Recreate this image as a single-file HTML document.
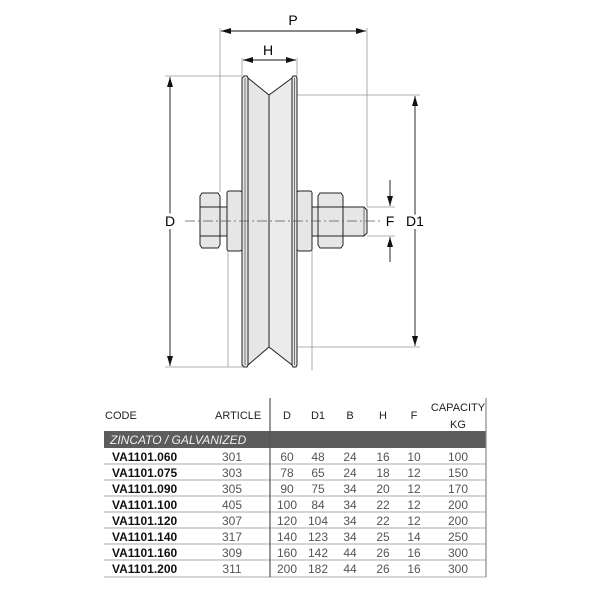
<!DOCTYPE html>
<html><head><meta charset="utf-8"><style>
html,body{margin:0;padding:0;background:#fff;width:600px;height:600px;overflow:hidden}
svg{position:absolute;left:0;top:0}
text{font-family:"Liberation Sans",sans-serif}
</style></head><body>
<svg width="600" height="600" viewBox="0 0 600 600" xmlns="http://www.w3.org/2000/svg">
<defs>
<marker id="a" viewBox="0 0 10 6" refX="10" refY="3" markerWidth="10" markerHeight="6" orient="auto-start-reverse" markerUnits="userSpaceOnUse"><path d="M0,0 L10,3 L0,6 z" fill="#111"/></marker>
</defs>
<g stroke="#999" stroke-width="0.8" fill="none">
<line x1="220" y1="28" x2="220" y2="192"/>
<line x1="228" y1="250" x2="228" y2="367"/>
<line x1="367" y1="28" x2="367" y2="207"/>
<line x1="242" y1="58" x2="242" y2="76"/>
<line x1="297" y1="58" x2="297" y2="76"/>
<line x1="165" y1="76" x2="242" y2="76"/>
<line x1="165" y1="367" x2="245" y2="367"/>
<line x1="270" y1="95" x2="420" y2="95"/>
<line x1="270" y1="347" x2="420" y2="347"/>
<line x1="312" y1="250" x2="312" y2="370"/>
<line x1="367" y1="207" x2="395" y2="207"/>
<line x1="367" y1="236" x2="395" y2="236"/>
</g>
<g stroke="#111" stroke-width="0.9">
<line x1="221" y1="31" x2="366" y2="31" marker-start="url(#a)" marker-end="url(#a)"/>
<line x1="243" y1="60" x2="296" y2="60" marker-start="url(#a)" marker-end="url(#a)"/>
<line x1="170" y1="77" x2="170" y2="366" marker-start="url(#a)" marker-end="url(#a)"/>
<line x1="415" y1="96" x2="415" y2="346" marker-start="url(#a)" marker-end="url(#a)"/>
<line x1="390" y1="180" x2="390" y2="206" marker-end="url(#a)"/>
<line x1="390" y1="262" x2="390" y2="237" marker-end="url(#a)"/>
</g>
<text x="293" y="25" font-size="14" text-anchor="middle">P</text>
<text x="268" y="55" font-size="14" text-anchor="middle">H</text>
<text x="170" y="226" font-size="14" text-anchor="middle" style="paint-order:stroke" stroke="#fff" stroke-width="6">D</text>
<text x="390" y="226" font-size="14" text-anchor="middle">F</text>
<text x="415" y="226" font-size="14" text-anchor="middle" style="paint-order:stroke" stroke="#fff" stroke-width="6">D1</text>
<g stroke="#222" stroke-width="1" fill="#e6e6e6">
<!-- wheel -->
<path d="M244,76 L247,76 L248,78 L248,365 L247,367 L244,367 L242,365 L242,78 Z"/>
<path d="M248,78 L269,95 L269,347 L248,365 Z"/>
<path d="M292,78 L269,95 L269,347 L292,365 Z" fill="#ebebeb"/>
<path d="M293,76 L296,76 L297,78 L297,365 L296,367 L293,367 L292,365 L292,78 Z"/>
<line x1="245" y1="78" x2="245" y2="365" stroke-width="0.6"/>
<line x1="294.5" y1="78" x2="294.5" y2="365" stroke-width="0.6"/>
<!-- left pin -->
<rect x="220" y="207" width="7" height="29"/>
<!-- left nut -->
<path d="M202,193 L218,193 L220,196 L220,245 L218,248 L202,248 L200,245 L200,196 Z"/>
<line x1="200" y1="207" x2="220" y2="207"/><line x1="200" y1="236" x2="220" y2="236"/>
<!-- left washer -->
<rect x="227" y="191" width="15" height="60" rx="2"/>
<!-- right washer -->
<rect x="297" y="191" width="15" height="60" rx="2"/>
<!-- right pin -->
<rect x="312" y="207" width="6" height="29"/>
<!-- bolt -->
<path d="M343,207 L364,207 L367,210 L367,233 L364,236 L343,236 Z"/>
<line x1="364" y1="207" x2="364" y2="236" stroke-width="0.6"/>
<!-- right nut -->
<path d="M320,193 L341,193 L343,196 L343,245 L341,248 L320,248 L318,245 L318,196 Z"/>
<line x1="318" y1="207" x2="343" y2="207"/><line x1="318" y1="236" x2="343" y2="236"/>
</g>
<line x1="185" y1="221" x2="382" y2="221" stroke="#555" stroke-width="0.7" stroke-dasharray="10,3,2,3"/>

<!-- table -->
<g font-size="11" fill="#222">
<text x="105" y="419">CODE</text>
<text x="215" y="419">ARTICLE</text>
<text x="287" y="419" text-anchor="middle">D</text>
<text x="318" y="419" text-anchor="middle">D1</text>
<text x="350" y="419" text-anchor="middle">B</text>
<text x="383" y="419" text-anchor="middle">H</text>
<text x="414" y="419" text-anchor="middle">F</text>
<text x="458" y="411" text-anchor="middle">CAPACITY</text>
<text x="458" y="428" text-anchor="middle">KG</text>
</g>
<rect x="104" y="431" width="382" height="17" fill="#5c5c5c"/>
<text x="110" y="444" font-size="12" font-style="italic" fill="#f0f0f0">ZINCATO / GALVANIZED</text>
<g stroke="#aaa" stroke-width="1">
<line x1="104" y1="464" x2="486" y2="464"/><line x1="104" y1="480" x2="486" y2="480"/>
<line x1="104" y1="496" x2="486" y2="496"/><line x1="104" y1="512" x2="486" y2="512"/>
<line x1="104" y1="528" x2="486" y2="528"/><line x1="104" y1="544" x2="486" y2="544"/>
<line x1="104" y1="560" x2="486" y2="560"/><line x1="104" y1="577" x2="486" y2="577"/>
</g>
<line x1="270" y1="398" x2="270" y2="577" stroke="#555" stroke-width="1.2"/>
<line x1="486" y1="398" x2="486" y2="577" stroke="#888" stroke-width="1.2"/>
<g font-size="12" fill="#111" font-weight="bold">
<text x="112" y="461">VA1101.060</text><text x="112" y="477">VA1101.075</text>
<text x="112" y="493">VA1101.090</text><text x="112" y="509">VA1101.100</text>
<text x="112" y="525">VA1101.120</text><text x="112" y="541">VA1101.140</text>
<text x="112" y="557">VA1101.160</text><text x="112" y="573">VA1101.200</text>
</g>
<g font-size="12" fill="#555" text-anchor="middle">
<text x="232" y="461">301</text><text x="287" y="461">60</text><text x="318" y="461">48</text><text x="350" y="461">24</text><text x="383" y="461">16</text><text x="414" y="461">10</text><text x="458" y="461">100</text>
<text x="232" y="477">303</text><text x="287" y="477">78</text><text x="318" y="477">65</text><text x="350" y="477">24</text><text x="383" y="477">18</text><text x="414" y="477">12</text><text x="458" y="477">150</text>
<text x="232" y="493">305</text><text x="287" y="493">90</text><text x="318" y="493">75</text><text x="350" y="493">34</text><text x="383" y="493">20</text><text x="414" y="493">12</text><text x="458" y="493">170</text>
<text x="232" y="509">405</text><text x="287" y="509">100</text><text x="318" y="509">84</text><text x="350" y="509">34</text><text x="383" y="509">22</text><text x="414" y="509">12</text><text x="458" y="509">200</text>
<text x="232" y="525">307</text><text x="287" y="525">120</text><text x="318" y="525">104</text><text x="350" y="525">34</text><text x="383" y="525">22</text><text x="414" y="525">12</text><text x="458" y="525">200</text>
<text x="232" y="541">317</text><text x="287" y="541">140</text><text x="318" y="541">123</text><text x="350" y="541">34</text><text x="383" y="541">25</text><text x="414" y="541">14</text><text x="458" y="541">250</text>
<text x="232" y="557">309</text><text x="287" y="557">160</text><text x="318" y="557">142</text><text x="350" y="557">44</text><text x="383" y="557">26</text><text x="414" y="557">16</text><text x="458" y="557">300</text>
<text x="232" y="573">311</text><text x="287" y="573">200</text><text x="318" y="573">182</text><text x="350" y="573">44</text><text x="383" y="573">26</text><text x="414" y="573">16</text><text x="458" y="573">300</text>
</g>
</svg>
</body></html>
